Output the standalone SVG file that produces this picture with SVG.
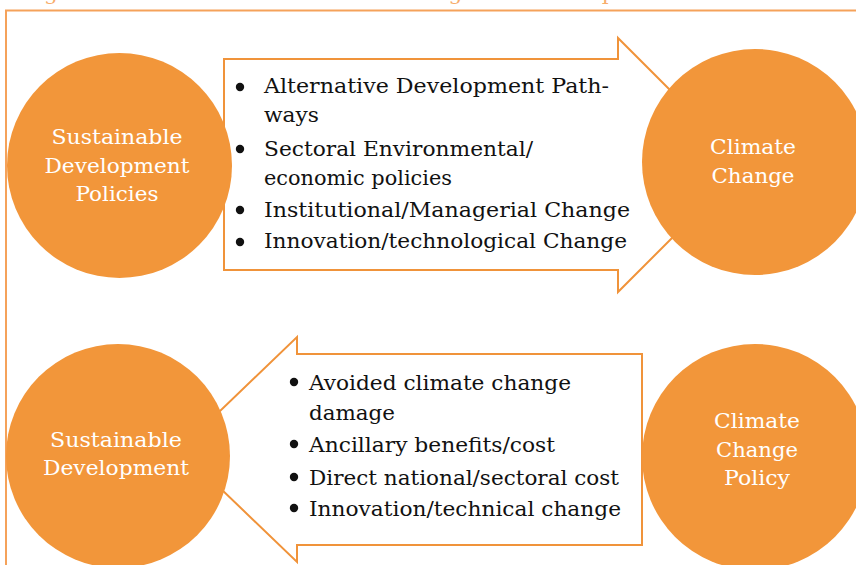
<svg xmlns="http://www.w3.org/2000/svg" width="856" height="565" viewBox="0 0 856 565">
  <style>
    .frame { fill: none; stroke: #F5A25A; stroke-width: 2; }
    .arrow { fill: #FFFFFF; stroke: #F0933A; stroke-width: 2; stroke-linejoin: miter; }
    .circ { fill: #F2963A; }
    .ctext { font-family: "DejaVu Serif", "Liberation Serif", serif; font-size: 21px; fill: #FFFFFF; text-anchor: middle; }
    .btext { font-family: "DejaVu Serif", "Liberation Serif", serif; font-size: 21px; fill: #111111; }
    .bullet { fill: #111111; }
    .title { font-family: "DejaVu Serif", "Liberation Serif", serif; font-size: 19px; fill: #F7AD6B; }
  </style>

  <text class="title" x="22" y="0" textLength="650" lengthAdjust="spacingAndGlyphs">Figure 1: Nexus between climate change and development</text>
  <rect class="frame" x="6" y="10.5" width="870" height="580"/>

  <g id="connectors">
    <polygon id="arrow-top" class="arrow" points="224,59 618,59 618,38 745,165 618,292 618,270 224,270"/>
    <polygon id="arrow-bottom" class="arrow" points="642,354 297,354 297,337 180,449.5 297,562 297,545 642,545"/>
  </g>

  <g id="list-top">
    <circle class="bullet" cx="240" cy="87" r="4.2"/>
    <text class="btext" x="264" y="93" textLength="345" lengthAdjust="spacingAndGlyphs">Alternative Development Path-</text>
    <text class="btext" x="264" y="122" textLength="55" lengthAdjust="spacingAndGlyphs">ways</text>
    <circle class="bullet" cx="240" cy="149" r="4.2"/>
    <text class="btext" x="264" y="156" textLength="269" lengthAdjust="spacingAndGlyphs">Sectoral Environmental/</text>
    <text class="btext" x="264" y="185" textLength="188" lengthAdjust="spacingAndGlyphs">economic policies</text>
    <circle class="bullet" cx="240" cy="210" r="4.2"/>
    <text class="btext" x="264" y="217" textLength="366" lengthAdjust="spacingAndGlyphs">Institutional/Managerial Change</text>
    <circle class="bullet" cx="240" cy="242" r="4.2"/>
    <text class="btext" x="264" y="248" textLength="363" lengthAdjust="spacingAndGlyphs">Innovation/technological Change</text>
  </g>

  <g id="list-bottom">
    <circle class="bullet" cx="294" cy="382" r="4.2"/>
    <text class="btext" x="309" y="390" textLength="262" lengthAdjust="spacingAndGlyphs">Avoided climate change</text>
    <text class="btext" x="309" y="420" textLength="86" lengthAdjust="spacingAndGlyphs">damage</text>
    <circle class="bullet" cx="294" cy="444" r="4.2"/>
    <text class="btext" x="309" y="452" textLength="246" lengthAdjust="spacingAndGlyphs">Ancillary benefits/cost</text>
    <circle class="bullet" cx="294" cy="477" r="4.2"/>
    <text class="btext" x="309" y="485" textLength="310" lengthAdjust="spacingAndGlyphs">Direct national/sectoral cost</text>
    <circle class="bullet" cx="294" cy="508" r="4.2"/>
    <text class="btext" x="309" y="516" textLength="312" lengthAdjust="spacingAndGlyphs">Innovation/technical change</text>
  </g>

  <g id="node-sd-policies">
    <circle class="circ" cx="119.5" cy="165.5" r="112.5"/>
    <text class="ctext" x="117" y="144" textLength="131" lengthAdjust="spacingAndGlyphs">Sustainable</text>
    <text class="ctext" x="117" y="173" textLength="145" lengthAdjust="spacingAndGlyphs">Development</text>
    <text class="ctext" x="117" y="201" textLength="83" lengthAdjust="spacingAndGlyphs">Policies</text>
  </g>

  <g id="node-climate-change">
    <circle class="circ" cx="755" cy="162" r="113"/>
    <text class="ctext" x="753" y="154" textLength="86" lengthAdjust="spacingAndGlyphs">Climate</text>
    <text class="ctext" x="753" y="183" textLength="83" lengthAdjust="spacingAndGlyphs">Change</text>
  </g>

  <g id="node-sd">
    <circle class="circ" cx="118" cy="456" r="112"/>
    <text class="ctext" x="116" y="447" textLength="132" lengthAdjust="spacingAndGlyphs">Sustainable</text>
    <text class="ctext" x="116" y="475" textLength="146" lengthAdjust="spacingAndGlyphs">Development</text>
  </g>

  <g id="node-cc-policy">
    <circle class="circ" cx="755" cy="457" r="113"/>
    <text class="ctext" x="757" y="428" textLength="86" lengthAdjust="spacingAndGlyphs">Climate</text>
    <text class="ctext" x="757" y="457" textLength="82" lengthAdjust="spacingAndGlyphs">Change</text>
    <text class="ctext" x="757" y="485" textLength="66" lengthAdjust="spacingAndGlyphs">Policy</text>
  </g>
</svg>
